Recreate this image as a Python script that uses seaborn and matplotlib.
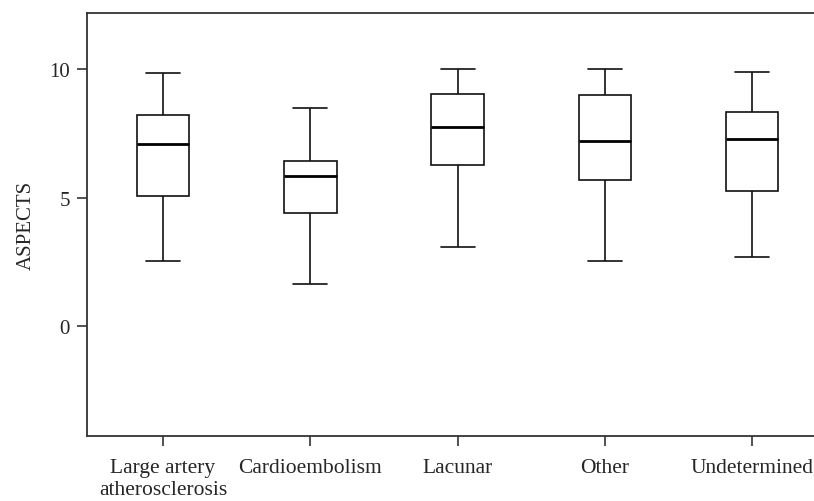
import numpy as np
import pandas as pd
import seaborn as sns
import matplotlib
matplotlib.use("Agg")
import matplotlib.pyplot as plt

categories = ["Large artery\natherosclerosis", "Cardioembolism", "Lacunar", "Other", "Undetermined"]
# five-number summaries: min, Q1, median, Q3, max
large_artery = [2.54, 5.05, 7.09, 8.24, 9.87]
cardioembolism = [1.62, 4.41, 5.86, 6.43, 8.50]
lacunar = [3.09, 6.27, 7.76, 9.04, 10.01]
other = [2.52, 5.68, 7.21, 9.00, 10.00]
undetermined = [2.70, 5.25, 7.30, 8.36, 9.92]
y_ticks = [0, 5, 10]
y_label = "ASPECTS"

series = [large_artery, cardioembolism, lacunar, other, undetermined]
df = pd.DataFrame({
    "group": np.repeat(categories, 5),
    "value": np.concatenate(series),
})

sns.set_style("ticks")
plt.rcParams["font.family"] = ["Liberation Serif", "DejaVu Serif"]

fig = plt.figure(figsize=(8.14, 5.02), dpi=100)
ax = fig.add_axes([0.1065, 0.130, 0.8935, 0.842])

lw = 1.2
sns.boxplot(data=df, x="group", y="value", order=categories, ax=ax,
            whis=(0, 100), width=0.357, color="white", linecolor="black",
            linewidth=lw, capwidths=0.23,
            medianprops=dict(color="black", linewidth=2.0),
            boxprops=dict(facecolor="white", edgecolor="#111111", linewidth=lw),
            whiskerprops=dict(color="#111111", linewidth=lw),
            capprops=dict(color="#111111", linewidth=lw))

ax.set_xlim(-0.518, 4.42)
ax.set_ylim(-4.28, 12.2)
ax.set_yticks(y_ticks)
ax.set_xlabel("")
ax.set_ylabel(y_label, fontsize=15, labelpad=10)
ax.tick_params(axis="y", labelsize=15, direction="out", length=7,
               width=1.2, color="#333333", pad=5)
ax.tick_params(axis="x", labelsize=15.5, direction="out", length=7,
               width=1.2, color="#333333", pad=9)
for s in ["top", "bottom", "left"]:
    ax.spines[s].set_visible(True)
    ax.spines[s].set_linewidth(1.3)
    ax.spines[s].set_color("#333333")
ax.spines["right"].set_visible(False)

fig.savefig("out.png", dpi=100)
